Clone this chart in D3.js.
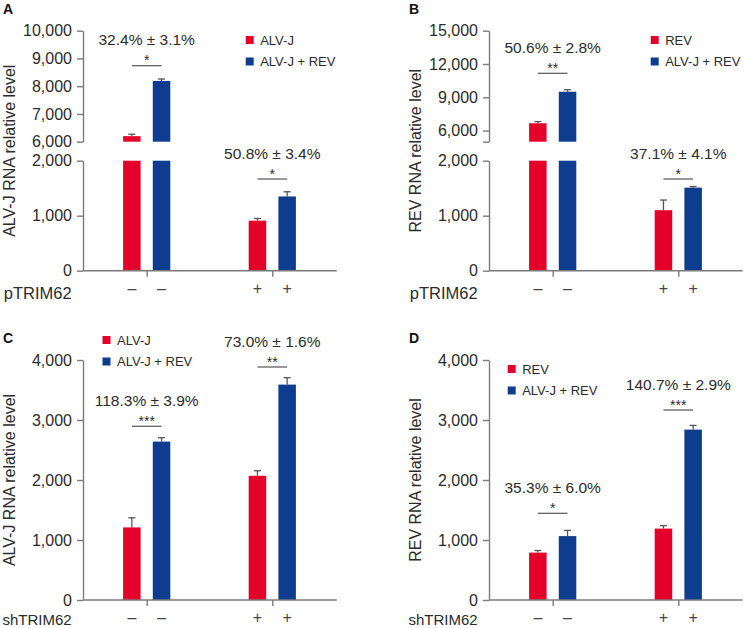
<!DOCTYPE html>
<html>
<head>
<meta charset="utf-8">
<script src="https://cdn.jsdelivr.net/npm/d3@7"></script>
<style>
  body { margin: 0; background: #fff; }
  svg { font-family: "Liberation Sans", Arial, sans-serif; }
</style>
</head>
<body>
<svg id="fig" width="745" height="628"></svg>
<script>
const colors = ["#e4002b", "#0e3d8f"];
const groups = ["–", "+"];

// panel A
const seriesA = ["ALV-J", "ALV-J + REV"];
const valuesA = [[6200, 910], [8190, 1350]];
const errorsA = [[70, 40], [70, 85]];
const pctA = ["32.4% ± 3.1%", "50.8% ± 3.4%"];
const starsA = ["*", "*"];

// panel B
const seriesB = ["REV", "ALV-J + REV"];
const valuesB = [[6660, 1100], [9500, 1510]];
const errorsB = [[150, 185], [180, 20]];
const pctB = ["50.6% ± 2.8%", "37.1% ± 4.1%"];
const starsB = ["**", "*"];

// panel C
const seriesC = ["ALV-J", "ALV-J + REV"];
const valuesC = [[1210, 2070], [2640, 3590]];
const errorsC = [[160, 85], [65, 115]];
const pctC = ["118.3% ± 3.9%", "73.0% ± 1.6%"];
const starsC = ["***", "**"];

// panel D
const seriesD = ["REV", "ALV-J + REV"];
const valuesD = [[790, 1190], [1065, 2840]];
const errorsD = [[35, 50], [95, 70]];
const pctD = ["35.3% ± 6.0%", "140.7% ± 2.9%"];
const starsD = ["*", "***"];

const ticksLow = [0, 1000, 2000];
const ticksHighA = [6000, 7000, 8000, 9000, 10000];
const ticksHighB = [5000, 6000, 9000, 12000, 15000];
const ticksFull = [0, 1000, 2000, 3000, 4000];

const axisColor = "#7b7b7b";
const textColor = "#2b2b2b";
const fmt = d3.format(",");

const svg = d3.select("#fig");

const panels = [
  { letter: "A", ox: 83, top: 30.7, bottom: 270.7, ylabel: "ALV-J RNA relative level", xlabel: "pTRIM62", xlabelDy: 28.3, xlabelSize: 16.5,
    series: seriesA, values: valuesA, errors: errorsA, pct: pctA, stars: starsA,
    broken: true, lowMax: 2000, highDomain: [6000, 10000], highTicks: ticksHighA, hideTick: null,
    breakPx: [141.7, 160.7], sigY: [65.7, 179], legend: [162.7, 36] },
  { letter: "B", ox: 489, top: 30.7, bottom: 270.7, ylabel: "REV RNA relative level", xlabel: "pTRIM62", xlabelDy: 28.3, xlabelSize: 16.5,
    series: seriesB, values: valuesB, errors: errorsB, pct: pctB, stars: starsB,
    broken: true, lowMax: 2000, highDomain: [5000, 15000], highTicks: ticksHighB, hideTick: 5000,
    breakPx: [141.7, 160.7], sigY: [73.3, 179], legend: [161.7, 36] },
  { letter: "C", ox: 83, top: 360, bottom: 600, ylabel: "ALV-J RNA relative level", xlabel: "shTRIM62", xlabelDy: 24.5, xlabelSize: 15,
    series: seriesC, values: valuesC, errors: errorsC, pct: pctC, stars: starsC,
    broken: false, domain: [0, 4000], ticks: ticksFull,
    sigY: [426.3, 367], legend: [19.5, 336] },
  { letter: "D", ox: 489, top: 360, bottom: 600, ylabel: "REV RNA relative level", xlabel: "shTRIM62", xlabelDy: 24.5, xlabelSize: 15,
    series: seriesD, values: valuesD, errors: errorsD, pct: pctD, stars: starsD,
    broken: false, domain: [0, 4000], ticks: ticksFull,
    sigY: [513.3, 410], legend: [18.7, 365] },
];

function styleAxis(sel) {
  sel.select(".domain").attr("stroke", axisColor).attr("stroke-width", 1.4);
  sel.selectAll(".tick line").attr("stroke", axisColor).attr("stroke-width", 1.4);
  sel.selectAll(".tick text").attr("fill", textColor).style("font-size", "16px");
}

function drawPanel(p) {
  const g = svg.append("g");
  const x0 = d3.scalePoint().domain(groups).range([p.ox + 63.7, p.ox + 189.3]);
  const x1 = d3.scaleBand().domain(p.series).range([-23.6, 23.6]).paddingInner(0.41);
  const bw = x1.bandwidth();

  let y, yLow, yHigh;
  if (p.broken) {
    yLow = d3.scaleLinear().domain([0, p.lowMax]).range([p.bottom, p.breakPx[1]]);
    yHigh = d3.scaleLinear().domain(p.highDomain).range([p.breakPx[0], p.top]);
    y = v => (v <= p.lowMax ? yLow(v) : yHigh(v));
  } else {
    y = d3.scaleLinear().domain(p.domain).range([p.bottom, p.top]);
  }

  // bars
  p.series.forEach((s, si) => {
    groups.forEach((grp, gi) => {
      const v = p.values[si][gi];
      const e = p.errors[si][gi];
      const bx = x0(grp) + x1(s);
      if (p.broken && v > p.lowMax) {
        g.append("rect").attr("x", bx).attr("width", bw)
          .attr("y", yLow(p.lowMax)).attr("height", yLow(0) - yLow(p.lowMax))
          .attr("fill", colors[si]);
        g.append("rect").attr("x", bx).attr("width", bw)
          .attr("y", yHigh(v)).attr("height", yHigh(p.highDomain[0]) - yHigh(v))
          .attr("fill", colors[si]);
      } else {
        g.append("rect").attr("x", bx).attr("width", bw)
          .attr("y", y(v)).attr("height", y(0) - y(v))
          .attr("fill", colors[si]);
      }
      // error bar (upper only)
      const cx = bx + bw / 2;
      g.append("line").attr("x1", cx).attr("x2", cx).attr("y1", y(v)).attr("y2", y(v + e))
        .attr("stroke", "#555").attr("stroke-width", 1.3);
      g.append("line").attr("x1", cx - 3.5).attr("x2", cx + 3.5).attr("y1", y(v + e)).attr("y2", y(v + e))
        .attr("stroke", "#555").attr("stroke-width", 1.3);
      // +/- sign under each bar
      g.append("text").attr("x", cx).attr("y", p.bottom + 22.8)
        .attr("text-anchor", "middle").attr("fill", "#444").style("font-size", "16px")
        .text(grp);
    });
  });

  // y axes
  if (p.broken) {
    const lo = g.append("g").attr("transform", `translate(${p.ox},0)`)
      .call(d3.axisLeft(yLow).tickValues(ticksLow).tickSize(6).tickSizeOuter(0).tickPadding(5).tickFormat(fmt));
    styleAxis(lo);
    const hi = g.append("g").attr("transform", `translate(${p.ox},0)`)
      .call(d3.axisLeft(yHigh).tickValues(p.highTicks).tickSize(6).tickSizeOuter(0).tickPadding(5)
        .tickFormat(d => (d === p.hideTick ? "" : fmt(d))));
    styleAxis(hi);
  } else {
    const ax = g.append("g").attr("transform", `translate(${p.ox},0)`)
      .call(d3.axisLeft(y).tickValues(p.ticks).tickSize(6).tickSizeOuter(0).tickPadding(5).tickFormat(fmt));
    styleAxis(ax);
  }

  // x axis
  g.append("line").attr("x1", p.ox).attr("x2", p.ox + 253.7).attr("y1", p.bottom).attr("y2", p.bottom)
    .attr("stroke", axisColor).attr("stroke-width", 1.4);
  const xa = g.append("g").attr("transform", `translate(0,${p.bottom})`)
    .call(d3.axisBottom(x0).tickSize(6).tickSizeOuter(0).tickFormat(""));
  xa.select(".domain").remove();
  xa.selectAll(".tick line").attr("stroke", axisColor).attr("stroke-width", 1.4);

  // significance brackets and percentages
  groups.forEach((grp, gi) => {
    const xa1 = x0(grp) + x1(p.series[0]) + bw / 2;
    const xa2 = x0(grp) + x1(p.series[1]) + bw / 2;
    const sy = p.sigY[gi];
    g.append("line").attr("x1", xa1).attr("x2", xa2).attr("y1", sy).attr("y2", sy)
      .attr("stroke", "#555").attr("stroke-width", 1.2);
    g.append("text").attr("x", (xa1 + xa2) / 2).attr("y", sy - 0.5)
      .attr("text-anchor", "middle").attr("fill", textColor).style("font-size", "14px")
      .text(p.stars[gi]);
    g.append("text").attr("x", x0(grp)).attr("y", sy - 20.3)
      .attr("text-anchor", "middle").attr("fill", textColor).style("font-size", "15.5px")
      .text(p.pct[gi]);
  });

  // legend
  p.series.forEach((s, si) => {
    const lx = p.ox + p.legend[0];
    const ly = p.legend[1] + si * 21.5;
    g.append("rect").attr("x", lx).attr("y", ly).attr("width", 8).attr("height", 8).attr("fill", colors[si]);
    g.append("text").attr("x", lx + 14.5).attr("y", ly + 8.5)
      .attr("fill", textColor).style("font-size", "13px").text(s);
  });

  // axis labels
  g.append("text")
    .attr("transform", `translate(${p.ox - 68.5},${(p.top + p.bottom) / 2}) rotate(-90)`)
    .attr("text-anchor", "middle").attr("fill", textColor).style("font-size", "16px")
    .text(p.ylabel);
  g.append("text").attr("x", p.ox - 11.3).attr("y", p.bottom + p.xlabelDy)
    .attr("text-anchor", "end").attr("fill", textColor).style("font-size", p.xlabelSize + "px")
    .text(p.xlabel);

  // panel letter
  g.append("text").attr("x", p.ox - 80).attr("y", p.top - 17)
    .attr("fill", "#111").style("font-size", "14px").style("font-weight", "bold")
    .text(p.letter);
}

panels.forEach(drawPanel);
</script>
</body>
</html>
